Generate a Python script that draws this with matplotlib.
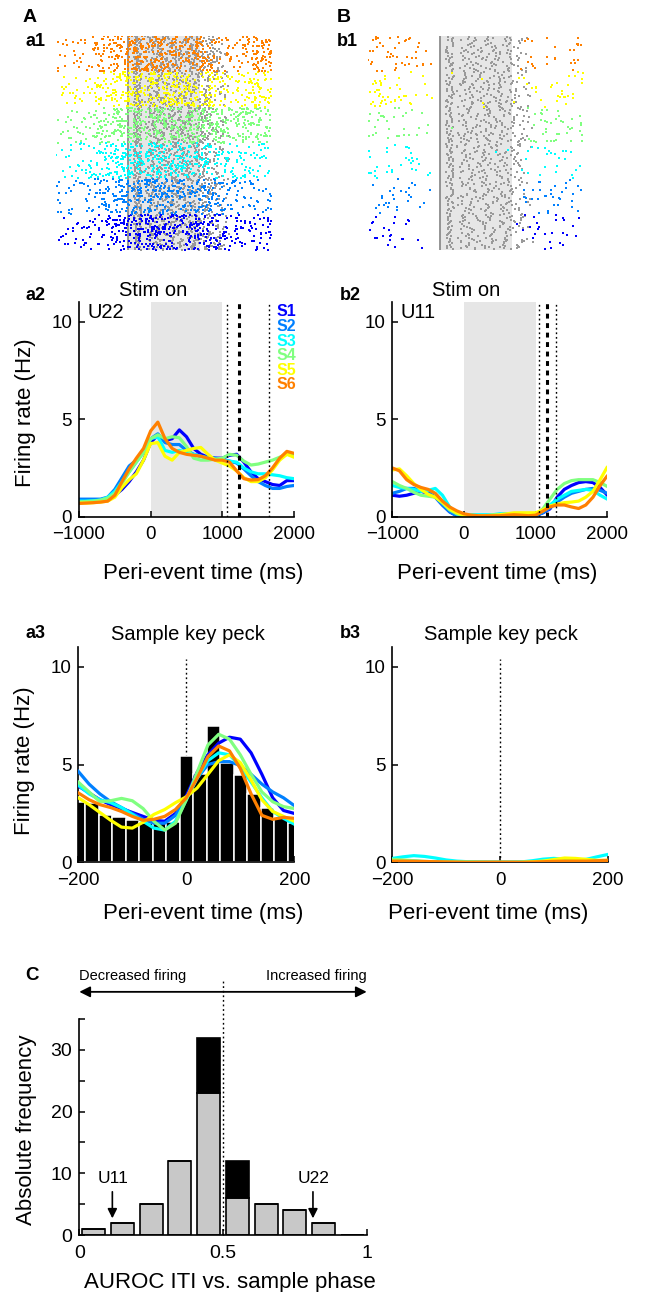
import numpy as np
import matplotlib
matplotlib.use('Agg')
import matplotlib.pyplot as plt

plt.rcParams['font.family'] = ['Liberation Sans', 'DejaVu Sans']

W, H = 651, 1292

stim_names = ['S1', 'S2', 'S3', 'S4', 'S5', 'S6']
stim_colors = ['#0000ff', '#0080ff', '#00ffff', '#80ff80', '#ffff00', '#ff8000']

# peri stimulus-onset time grid (ms) and smoothed rates (Hz)
t_stim = list(range(-1000, 2001, 100))
u22_s1 = [0.85, 0.85, 0.85, 0.85, 0.9, 1.1, 1.4, 1.8, 2.3, 2.9, 3.8, 4.2, 3.9, 4.0, 4.45, 4.1,
          3.5, 3.2, 3.05, 3.0, 3.0, 3.15, 3.2, 2.8, 2.3, 1.95, 1.8, 1.65, 1.6, 1.85, 1.85]
u22_s2 = [0.9, 0.9, 0.9, 0.9, 1.0, 1.4, 2.0, 2.6, 2.9, 3.3, 4.0, 4.25, 3.8, 3.7, 3.7, 3.4,
          3.2, 3.1, 3.05, 3.0, 2.95, 2.85, 2.75, 2.45, 2.1, 1.8, 1.6, 1.45, 1.45, 1.55, 1.6]
u22_s3 = [0.8, 0.8, 0.82, 0.85, 1.0, 1.3, 1.8, 2.3, 2.8, 3.3, 4.0, 4.1, 3.4, 3.3, 3.4, 3.3,
          3.2, 3.1, 3.0, 2.95, 2.9, 2.85, 2.8, 2.5, 2.3, 2.2, 2.2, 2.15, 2.1, 2.0, 1.95]
u22_s4 = [0.75, 0.78, 0.8, 0.85, 0.95, 1.2, 1.7, 2.3, 2.8, 3.3, 4.0, 4.2, 4.0, 4.1, 4.05, 3.6,
          3.0, 2.9, 2.9, 2.95, 3.0, 3.2, 3.15, 2.85, 2.65, 2.7, 2.8, 2.9, 3.05, 3.2, 3.15]
u22_s5 = [0.7, 0.7, 0.72, 0.75, 0.8, 1.0, 1.5, 1.9, 2.2, 2.9, 3.75, 3.8, 3.1, 2.9, 3.3, 3.4,
          3.5, 3.55, 3.2, 2.9, 2.75, 2.6, 2.35, 2.0, 1.8, 1.8, 2.0, 2.4, 2.9, 3.2, 3.05]
u22_s6 = [0.68, 0.7, 0.72, 0.75, 0.8, 1.1, 1.8, 2.45, 3.0, 3.5, 4.4, 4.85, 4.0, 3.5, 3.3, 3.2,
          3.15, 3.1, 3.0, 2.9, 2.9, 2.8, 2.35, 1.95, 1.88, 1.9, 2.1, 2.5, 3.0, 3.35, 3.25]

u11_s1 = [1.1, 1.05, 1.1, 1.2, 1.3, 1.2, 1.0, 0.6, 0.25, 0.05, 0.0, 0.0, 0.0, 0.0, 0.0, 0.02,
          0.05, 0.05, 0.05, 0.05, 0.05, 0.2, 0.4, 1.0, 1.4, 1.6, 1.75, 1.8, 1.75, 1.5, 1.1]
u11_s2 = [1.2, 1.3, 1.45, 1.45, 1.35, 1.25, 1.0, 0.6, 0.25, 0.05, 0.0, 0.0, 0.0, 0.0, 0.02, 0.03,
          0.05, 0.05, 0.05, 0.05, 0.05, 0.2, 0.45, 0.75, 1.0, 1.2, 1.3, 1.4, 1.45, 1.35, 1.2]
u11_s3 = [1.6, 1.5, 1.45, 1.4, 1.3, 1.35, 1.45, 1.1, 0.5, 0.15, 0.05, 0.1, 0.1, 0.1, 0.1, 0.15,
          0.15, 0.15, 0.15, 0.15, 0.15, 0.3, 0.6, 0.9, 1.1, 1.3, 1.35, 1.4, 1.35, 1.1, 0.9]
u11_s4 = [1.8, 1.6, 1.45, 1.25, 1.1, 1.05, 1.0, 0.7, 0.35, 0.15, 0.05, 0.08, 0.05, 0.03, 0.03, 0.05,
          0.05, 0.05, 0.05, 0.08, 0.1, 0.4, 0.9, 1.4, 1.7, 1.85, 1.9, 1.9, 1.9, 1.75, 1.55]
u11_s5 = [2.4, 2.45, 2.1, 1.7, 1.4, 1.15, 1.0, 0.75, 0.4, 0.2, 0.08, 0.05, 0.05, 0.05, 0.08, 0.1,
          0.15, 0.2, 0.2, 0.2, 0.2, 0.35, 0.55, 0.65, 0.72, 0.75, 0.8, 1.0, 1.3, 1.9, 2.55]
u11_s6 = [2.5, 2.35, 1.9, 1.65, 1.5, 1.4, 1.2, 0.8, 0.5, 0.3, 0.15, 0.08, 0.05, 0.05, 0.05, 0.05,
          0.08, 0.1, 0.08, 0.05, 0.08, 0.28, 0.5, 0.6, 0.6, 0.5, 0.42, 0.6, 1.0, 1.6, 2.1]

# event markers (ms after stim on)
u22_dotted = [1060, 1650]
u22_dashed = 1230
u11_dotted = [1050, 1290]
u11_dashed = 1160

# peri key-peck time grid (ms)
t_peck = list(range(-200, 201, 20))
u22_peck_s1 = [3.9, 3.55, 3.2, 2.95, 2.75, 2.55, 2.35, 2.15, 2.1, 2.5, 3.4, 4.6, 5.5, 6.1, 6.4, 6.3, 5.6, 4.5, 3.3, 2.65, 2.5]
u22_peck_s2 = [4.65, 4.0, 3.5, 3.1, 2.8, 2.5, 2.2, 2.0, 2.0, 2.4, 3.3, 4.3, 5.0, 5.15, 5.15, 4.95, 4.5, 4.0, 3.6, 3.3, 2.9]
u22_peck_s3 = [3.95, 3.5, 3.2, 3.05, 2.8, 2.45, 2.1, 1.75, 1.65, 2.1, 3.2, 4.3, 5.2, 5.6, 5.5, 4.9, 4.1, 3.3, 2.6, 2.25, 1.95]
u22_peck_s4 = [4.1, 3.6, 3.1, 3.15, 3.27, 3.15, 2.75, 2.1, 1.65, 2.0, 3.2, 4.6, 6.0, 6.55, 6.3, 5.5, 4.5, 3.6, 3.1, 2.85, 2.75]
u22_peck_s5 = [3.3, 2.95, 2.55, 2.15, 1.8, 1.75, 2.05, 2.45, 2.7, 3.05, 3.35, 3.8, 4.5, 5.2, 5.5, 5.1, 4.2, 3.2, 2.6, 2.35, 2.1]
u22_peck_s6 = [3.55, 3.2, 2.95, 2.8, 2.6, 2.35, 2.15, 2.2, 2.35, 2.7, 3.3, 4.3, 5.4, 5.95, 5.7, 4.8, 3.5, 2.4, 2.2, 2.3, 2.25]

# PSTH around key peck, 25 ms bins
psth_centers = list(range(-200, 201, 25))
psth_rates = [3.1, 3.05, 2.42, 2.34, 2.17, 2.03, 2.0, 2.05, 5.44, 4.52, 6.97, 5.1, 4.45, 3.5, 2.76, 2.25, 2.0]

u11_peck_s1 = [0.05, 0.06, 0.05, 0.03, 0.02, 0.01, 0, 0, 0, 0, 0, 0, 0, 0, 0, 0.02, 0.04, 0.05, 0.05, 0.06, 0.08]
u11_peck_s2 = [0.03, 0.04, 0.04, 0.03, 0.02, 0.01, 0, 0, 0, 0, 0, 0, 0, 0, 0.01, 0.02, 0.03, 0.03, 0.03, 0.04, 0.05]
u11_peck_s3 = [0.2, 0.28, 0.34, 0.3, 0.22, 0.12, 0.06, 0.03, 0.01, 0, 0, 0, 0.02, 0.08, 0.16, 0.2, 0.16, 0.12, 0.15, 0.28, 0.4]
u11_peck_s4 = [0.15, 0.12, 0.08, 0.05, 0.02, 0, 0, 0, 0, 0, 0, 0, 0, 0.02, 0.05, 0.08, 0.1, 0.1, 0.08, 0.06, 0.05]
u11_peck_s5 = [0.05, 0.05, 0.03, 0.02, 0, 0, 0, 0, 0, 0, 0, 0, 0, 0.02, 0.06, 0.14, 0.22, 0.2, 0.15, 0.1, 0.1]
u11_peck_s6 = [0.06, 0.06, 0.05, 0.04, 0.03, 0.02, 0.01, 0, 0, 0, 0, 0, 0, 0.01, 0.03, 0.05, 0.06, 0.06, 0.06, 0.08, 0.1]

# AUROC histogram (bins of 0.1)
auroc_edges = [0.0, 0.1, 0.2, 0.3, 0.4, 0.5, 0.6, 0.7, 0.8, 0.9, 1.0]
auroc_grey = [1, 2, 5, 12, 23, 6, 5, 4, 2, 0]
auroc_black = [0, 0, 0, 0, 9, 6, 0, 0, 0, 0]
auroc_u11 = 0.115
auroc_u22 = 0.813

# raster settings
trials_u22 = 60
trials_u11 = 30
sample_end_u22 = (1000, 1450)
sample_end_u11 = (1000, 1300)

u22_rates = [u22_s1, u22_s2, u22_s3, u22_s4, u22_s5, u22_s6]
u11_rates = [u11_s1, u11_s2, u11_s3, u11_s4, u11_s5, u11_s6]
u22_peck = [u22_peck_s1, u22_peck_s2, u22_peck_s3, u22_peck_s4, u22_peck_s5, u22_peck_s6]
u11_peck = [u11_peck_s1, u11_peck_s2, u11_peck_s3, u11_peck_s4, u11_peck_s5, u11_peck_s6]

fig = plt.figure(figsize=(W / 100, H / 100), dpi=100)


def px_axes(x0, y0, x1, y1):
    return fig.add_axes([x0 / W, 1 - y1 / H, (x1 - x0) / W, (y1 - y0) / H])


def ftext(x, y, s, **kw):
    fig.text(x / W, 1 - y / H, s, **kw)


def style(ax):
    for side in ['top', 'right']:
        ax.spines[side].set_visible(False)
    for side in ['left', 'bottom']:
        ax.spines[side].set_linewidth(1.2)
    ax.tick_params(direction='in', length=4, width=1.1, labelsize=13.5, pad=5)
    ax.tick_params(axis='x', pad=7)


def jitter(i, j, salt):
    # deterministic hash in [0, 1) used to scatter raster ticks
    h = (i * 73856093) ^ (j * 19349663) ^ (salt * 83492791)
    h = (h * 2654435761) & 0xFFFFFFFF
    return (h % 100003) / 100003.0


def draw_raster(ax, rates, n_trials, sample_end):
    # spike rows rendered from the rate curves, peck markers over the sample phase
    t_fine = np.arange(-1000, 2001, 5.0)
    ax.axvspan(0, 1000, color='#e6e6e6', lw=0, zorder=0)
    ax.axvline(0, color='#8c8c8c', lw=1.3, zorder=1)
    px, py = [], []
    for s, (r, c) in enumerate(zip(rates, stim_colors)):
        lam = np.cumsum(np.interp(t_fine, t_stim, r)) * 5 / 1000
        xs, ys = [], []
        for k in range(n_trials):
            i = s * n_trials + k
            row = i + 0.5
            gain = 0.7 + 0.6 * jitter(i, 0, 1)
            L = lam * gain
            steps = [-np.log(1 - jitter(i, j, 2)) for j in range(60)]
            thr = np.cumsum(steps)
            thr = thr[thr < L[-1]]
            xs.extend(np.interp(thr, L, t_fine))
            ys.extend([row] * len(thr))
            end = sample_end[0] + (sample_end[1] - sample_end[0]) * jitter(i, 0, 3)
            t = 80 + 110 * jitter(i, 0, 4)
            j = 0
            while t < end:
                px.append(t)
                py.append(row)
                j += 1
                t += 140 + 190 * jitter(i, j, 5)
        ax.scatter(xs, ys, s=1.8, marker='s', c=c, lw=0, zorder=3)
    ax.scatter(px, py, s=1.8, marker='s', c='#9a9a9a', lw=0, zorder=2)
    ax.set_xlim(-1000, 2000)
    ax.set_ylim(0, 6 * n_trials)
    ax.axis('off')


def draw_stim(ax, rates, dotted, dashed, unit, legend):
    ax.axvspan(0, 1000, color='#e6e6e6', lw=0, zorder=0)
    for r, c in zip(rates, stim_colors):
        ax.plot(t_stim, r, color=c, lw=2.3, zorder=2, solid_capstyle='round')
    for d in dotted:
        ax.axvline(d, color='k', lw=1.0, ls=(0, (1.3, 2.0)), zorder=4)
    ax.axvline(dashed, color='k', lw=2.2, ls=(0, (1.6, 1.5)), zorder=4)
    ax.set_xlim(-1000, 2000)
    ax.set_ylim(0, 11)
    ax.set_xticks([-1000, 0, 1000, 2000])
    ax.set_xticklabels(['\u22121000', '0', '1000', '2000'])
    ax.set_yticks([0, 5, 10])
    style(ax)
    ax.text(0.04, 0.995, unit, transform=ax.transAxes, fontsize=14.5, va='top', ha='left')
    if legend:
        for j, (n, c) in enumerate(zip(stim_names, stim_colors)):
            ax.text(0.92, 0.99 - j * 0.068, n, transform=ax.transAxes, color=c,
                    fontsize=11.5, fontweight='bold', va='top', ha='left')


def draw_peck(ax, rates):
    for r, c in zip(rates, stim_colors):
        ax.plot(t_peck, r, color=c, lw=2.3, zorder=3)
    ax.plot([0, 0], [0, 10.4], color='k', lw=1.0, ls=(0, (1.3, 2.0)), zorder=1)
    ax.set_xlim(-200, 200)
    ax.set_ylim(0, 11)
    ax.set_xticks([-200, 0, 200])
    ax.set_xticklabels(['\u2212200', '0', '200'])
    ax.set_yticks([0, 5, 10])
    style(ax)


# ---- row 1: rasters
ax_a1 = px_axes(56.3, 36, 271.3, 250)
draw_raster(ax_a1, u22_rates, trials_u22, sample_end_u22)
ax_b1 = px_axes(368.3, 36, 583.3, 250)
draw_raster(ax_b1, u11_rates, trials_u11, sample_end_u11)

# ---- row 2: stim-on aligned rates
ax_a2 = px_axes(79, 302.2, 294, 516.7)
draw_stim(ax_a2, u22_rates, u22_dotted, u22_dashed, 'U22', True)
ax_a2.set_ylabel('Firing rate (Hz)', fontsize=16)
ax_a2.yaxis.set_label_coords(-0.2, 0.484)
ax_a2.set_xlabel('Peri-event time (ms)', fontsize=16)
ax_a2.xaxis.set_label_coords(0.577, -0.214)

ax_b2 = px_axes(392.3, 302.2, 607.3, 516.7)
draw_stim(ax_b2, u11_rates, u11_dotted, u11_dashed, 'U11', False)
ax_b2.set_xlabel('Peri-event time (ms)', fontsize=16)
ax_b2.xaxis.set_label_coords(0.49, -0.214)

# ---- row 3: key-peck aligned
ax_a3 = px_axes(78.3, 647.3, 294.3, 862.3)
ax_a3.bar(psth_centers, psth_rates, width=25, color='k', edgecolor='white', lw=1.1, zorder=2)
draw_peck(ax_a3, u22_peck)
ax_a3.set_ylabel('Firing rate (Hz)', fontsize=16)
ax_a3.yaxis.set_label_coords(-0.2, 0.474)
ax_a3.set_xlabel('Peri-event time (ms)', fontsize=16)
ax_a3.xaxis.set_label_coords(0.577, -0.189)

ax_b3 = px_axes(392.3, 647.3, 607.7, 862.3)
draw_peck(ax_b3, u11_peck)
ax_b3.set_xlabel('Peri-event time (ms)', fontsize=16)
ax_b3.xaxis.set_label_coords(0.446, -0.189)

# ---- panel C: AUROC histogram
ax_c = px_axes(79.3, 1019, 366.7, 1235)
centers = [(a + b) / 2 for a, b in zip(auroc_edges[:-1], auroc_edges[1:])]
ax_c.bar(centers, auroc_grey, width=0.08, color='#c8c8c8', edgecolor='k', lw=1.2, zorder=2)
ax_c.bar(centers, auroc_black, bottom=auroc_grey, width=0.08, color='k', edgecolor='k',
         lw=1.2, zorder=2)
ax_c.set_xlim(0, 1)
ax_c.set_ylim(0, 35)
ax_c.set_xticks([0, 0.5, 1])
ax_c.set_xticklabels(['0', '0.5', '1'])
ax_c.set_yticks(range(0, 36, 5))
ax_c.set_yticklabels([str(v) if v % 10 == 0 else '' for v in range(0, 36, 5)])
style(ax_c)
ax_c.tick_params(labelsize=14)
ax_c.plot([0.5, 0.5], [0, 41.5], color='k', lw=1.0, ls=(0, (1.3, 2.0)), zorder=3, clip_on=False)
ax_c.annotate('', xy=(0, 39.4), xytext=(1, 39.4), annotation_clip=False,
              arrowprops=dict(arrowstyle='<|-|>', color='k', lw=1.3, mutation_scale=16,
                              shrinkA=0, shrinkB=0))
ax_c.text(0, 42.0, 'Decreased firing', fontsize=10.5, ha='left', va='center')
ax_c.text(1, 42.0, 'Increased firing', fontsize=10.5, ha='right', va='center')
for name, xv in [('U11', auroc_u11), ('U22', auroc_u22)]:
    ax_c.text(xv + 0.003, 9.1, name, fontsize=12.5, ha='center', va='center')
    ax_c.annotate('', xy=(xv, 2.7), xytext=(xv, 7.0),
                  arrowprops=dict(arrowstyle='-|>', color='k', lw=1.2, mutation_scale=14,
                                  shrinkA=0, shrinkB=0))
ax_c.set_ylabel('Absolute frequency', fontsize=16)
ax_c.yaxis.set_label_coords(-0.146, 0.486)
ax_c.set_xlabel('AUROC ITI vs. sample phase', fontsize=16)
ax_c.xaxis.set_label_coords(0.524, -0.171)

# ---- panel letters and titles
ftext(23, 17.5, 'A', fontsize=14, fontweight='bold', va='center')
ftext(25, 42, 'a1', fontsize=13, fontweight='bold', va='center')
ftext(337, 17.5, 'B', fontsize=14, fontweight='bold', va='center')
ftext(337, 42, 'b1', fontsize=13, fontweight='bold', va='center')
ftext(25, 296, 'a2', fontsize=13, fontweight='bold', va='center')
ftext(340, 296, 'b2', fontsize=13, fontweight='bold', va='center')
ftext(25, 634, 'a3', fontsize=13, fontweight='bold', va='center')
ftext(340, 634, 'b3', fontsize=13, fontweight='bold', va='center')
ftext(25, 975, 'C', fontsize=13.5, fontweight='bold', va='center')
ftext(153, 290, 'Stim on', fontsize=14.5, ha='center', va='center')
ftext(466, 290, 'Stim on', fontsize=14.5, ha='center', va='center')
ftext(188, 634, 'Sample key peck', fontsize=14.5, ha='center', va='center')
ftext(501, 634, 'Sample key peck', fontsize=14.5, ha='center', va='center')

fig.savefig('out.png', dpi=100)
